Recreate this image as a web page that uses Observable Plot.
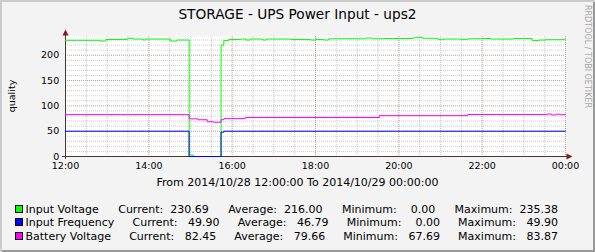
<!DOCTYPE html>
<html><head><meta charset="utf-8">
<script src="https://cdn.jsdelivr.net/npm/d3@7"></script>
<script src="https://cdn.jsdelivr.net/npm/@observablehq/plot@0.6"></script>
<style>
html,body{margin:0;padding:0;background:#fff;}
#chart{position:relative;width:595px;height:252px;background:#f3f3f3;box-shadow:inset 2px 2px 0 #cbcbcb, inset -2px -2px 0 #999;overflow:hidden;font-family:"DejaVu Sans",sans-serif;color:#000;}
#chart svg{position:absolute;left:0;top:0;}
#title{position:absolute;left:0;top:7.7px;width:595px;text-align:center;font-size:13.7px;line-height:13.7px;white-space:nowrap;}
#ylabel{position:absolute;left:11.5px;top:95.5px;font-size:9.5px;line-height:10px;transform:translate(-50%,-50%) rotate(-90deg);white-space:nowrap;}
#wm{position:absolute;left:586.5px;top:5px;font-size:8px;line-height:8px;writing-mode:vertical-rl;transform:translateX(-50%);color:#a8a8a8;white-space:nowrap;}
#caption{position:absolute;left:0;top:176.7px;width:595px;text-align:center;font-size:11px;line-height:11px;white-space:pre;}
#legend{position:absolute;left:14.5px;top:202.9px;width:543.5px;font-size:11px;}
.row{display:flex;justify-content:space-between;height:13.55px;line-height:13.55px;white-space:pre;}
.box{display:inline-block;width:6px;height:6px;border:1px solid #000;margin-right:3px;vertical-align:baseline;}
</style>
</head><body>
<div id="chart">
  <div id="title"></div>
  <div id="ylabel"></div>
  <div id="wm"></div>
  <div id="caption"></div>
  <div id="legend"></div>
</div>
<script>
// ---- text ----
const titleText = "STORAGE - UPS Power Input - ups2";
const yLabelText = "quality";
const watermarkText = "RRDTOOL / TOBI OETIKER";
const captionText = "From 2014/10/28 12:00:00 To 2014/10/29 00:00:00";

// ---- series ----
const seriesNames = ["Input Voltage", "Input Frequency", "Battery Voltage"];
const seriesColors = ["#00ff00", "#0000ff", "#ff00ff"];
const statLabels = ["Current:", "Average:", "Minimum:", "Maximum:"];
const currentValues = [230.69, 49.90, 82.45];
const averageValues = [216.00, 46.79, 79.66];
const minimumValues = [0.00, 0.00, 67.69];
const maximumValues = [235.38, 49.90, 83.87];

const voltageTimes = ["12:00","12:50","12:58","13:29","13:38","13:52","13:55","14:31","14:40","14:58","15:04","15:44","15:48","15:55","16:12","16:20","16:26","16:44","16:49","17:24","17:53","18:00","18:12","18:19","19:12","19:22","19:38","20:20","20:28","20:34","20:56","21:07","21:29","21:40","21:58","22:12","22:45","23:12","23:21","23:31","00:00"];
const voltageValues = [229.5,228,231,233.5,232,230,232,228,230,3,0,220,229,231,232,230,232,230,232,231,230,231,230,232.5,234,232.5,233,234.5,235.38,233.5,231.5,232,231.5,232.5,233,232,233,229,230,230.7,230.69];

const frequencyTimes = ["12:00","14:58","15:44","15:48","00:00"];
const frequencyValues = [49.9, 0, 48, 49.9, 49.9];

const batteryTimes = ["12:00","14:58","15:11","15:24","15:33","15:44","15:48","16:19","19:32","21:39","23:34","23:40","23:46","23:53","23:57","00:00"];
const batteryValues = [82.7,74.4,72.6,68.7,67.69,72.8,74.8,77,80.7,83,83.87,82,83.5,82.4,83,82.45];

// ---- axes ----
const xTickLabels = ["12:00","14:00","16:00","18:00","20:00","22:00","00:00"];
const yTicks = [0, 50, 100, 150, 200];
const yMax = 237;

function parseT(s) {
  const [h, m] = s.split(":").map(Number);
  return new Date(2014, 9, h < 12 ? 29 : 28, h, m);
}
const toRows = (times, values) => times.map((t, i) => ({t: parseT(t), v: values[i]}));

const xTicks = xTickLabels.map(parseT);
const t0 = xTicks[0], t1 = xTicks[xTicks.length - 1];
const xMinor = d3.timeMinute.every(30).range(t0, t1).filter(d => !(d.getMinutes() === 0 && d.getHours() % 2 === 0));
const yMinor = d3.range(10, yMax, 10).filter(v => v % 50 !== 0);

const axisColor = "#4a3434";
const arrowColor = "#7f1f1f";
const minorGrid = {stroke: "#8c8c8c", strokeOpacity: 0.45, strokeDasharray: "1,1"};
const majorGrid = {stroke: "#821e1e", strokeOpacity: 0.45, strokeDasharray: "1,1"};

const triUp = {draw(ctx, size) { const r = Math.sqrt(size / Math.PI); ctx.moveTo(0, -r); ctx.lineTo(r, r); ctx.lineTo(-r, r); ctx.closePath(); }};
const triRight = {draw(ctx, size) { const r = Math.sqrt(size / Math.PI); ctx.moveTo(r, 0); ctx.lineTo(-r, -r); ctx.lineTo(-r, r); ctx.closePath(); }};

const seriesData = [toRows(voltageTimes, voltageValues), toRows(frequencyTimes, frequencyValues), toRows(batteryTimes, batteryValues)];

const chart = Plot.plot({
  width: 595, height: 252,
  marginLeft: 65, marginRight: 30, marginTop: 36, marginBottom: 96,
  style: {background: "transparent", fontFamily: "DejaVu Sans", fontSize: "9.5px", color: "#000", overflow: "visible"},
  x: {type: "time", domain: [t0, t1]},
  y: {domain: [0, yMax]},
  marks: [
    Plot.frame({fill: "#fff", stroke: null}),
    Plot.gridY(yMinor, minorGrid),
    Plot.gridX(xMinor, minorGrid),
    Plot.gridY(yTicks.filter(v => v > 0), majorGrid),
    Plot.gridX(xTicks.slice(1), majorGrid),
    Plot.ruleX([t0], {stroke: axisColor, insetTop: -2, insetBottom: -3}),
    Plot.ruleY([0], {stroke: axisColor, insetLeft: -3, insetRight: -3}),
    ...seriesData.map((rows, i) => Plot.line(rows, {x: "t", y: "v", stroke: seriesColors[i], strokeWidth: 1, curve: "step-after"})),
    Plot.dot({length: 1}, {frameAnchor: "top-left", dy: -4, r: 3, symbol: triUp, fill: arrowColor, stroke: null}),
    Plot.dot({length: 1}, {frameAnchor: "bottom-right", dx: 4, r: 3, symbol: triRight, fill: arrowColor, stroke: null}),
    Plot.axisY(yTicks, {tickSize: 0, tickPadding: 6.3, label: null, fontSize: 9.5}),
    Plot.axisX(xTicks, {tickSize: 0, tickPadding: 6, label: null, fontSize: 9.5, tickFormat: d3.timeFormat("%H:%M")})
  ]
});
document.getElementById("chart").appendChild(chart);

document.getElementById("title").textContent = titleText;
document.getElementById("ylabel").textContent = yLabelText;
document.getElementById("wm").textContent = watermarkText;
document.getElementById("caption").textContent = captionText;

const statArrays = [currentValues, averageValues, minimumValues, maximumValues];
const legend = document.getElementById("legend");
seriesNames.forEach((name, i) => {
  const row = document.createElement("div");
  row.className = "row";
  const first = document.createElement("span");
  const box = document.createElement("span");
  box.className = "box";
  box.style.background = seriesColors[i];
  first.appendChild(box);
  first.appendChild(document.createTextNode(name));
  row.appendChild(first);
  statLabels.forEach((lab, j) => {
    const s = document.createElement("span");
    s.textContent = lab + statArrays[j][i].toFixed(2).padStart(8, " ");
    row.appendChild(s);
  });
  legend.appendChild(row);
});
</script>
</body></html>
